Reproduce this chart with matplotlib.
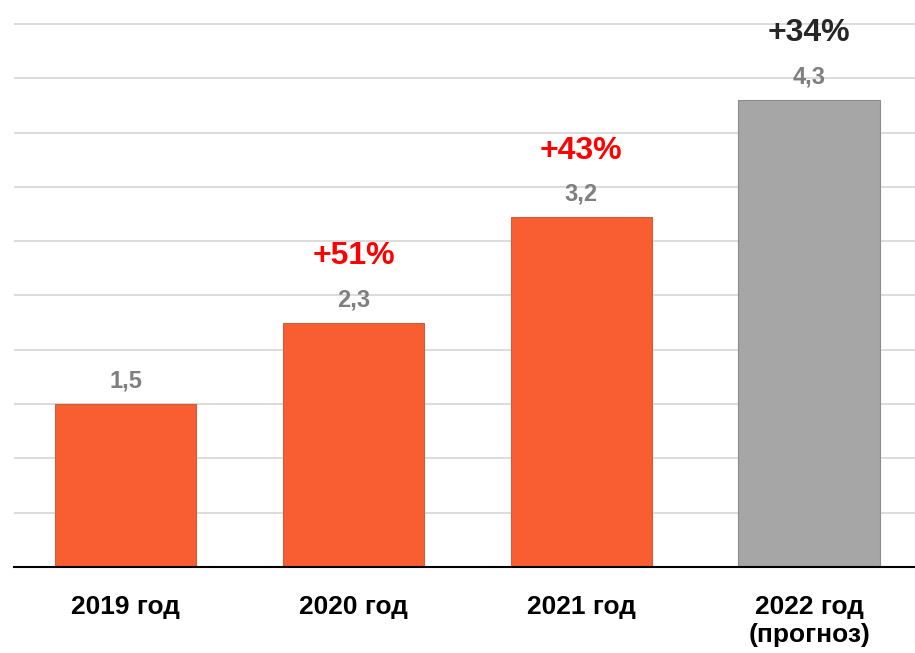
import matplotlib
matplotlib.use("Agg")
import matplotlib.pyplot as plt

categories = ["2019 год", "2020 год", "2021 год", "2022 год\n(прогноз)"]
values = [1.5, 2.25, 3.22, 4.3]
value_labels = ["1,5", "2,3", "3,2", "4,3"]
growth_labels = ["", "+51%", "+43%", "+34%"]
bar_colors = ["#F95D32", "#F95D32", "#F95D32", "#A6A6A6"]
edge_colors = ["#C8603F", "#C8603F", "#C8603F", "#8C8C8C"]
growth_colors = ["red", "red", "red", "#262626"]

plt.rcParams['font.family'] = ['Liberation Sans', 'DejaVu Sans']

fig = plt.figure(figsize=(9.15, 6.53), dpi=100)
ax = fig.add_axes([14/915, (653-567)/653, 1 - 14/915, 567/653])

x = list(range(len(categories)))
ax.bar(x, values, width=0.62, color=bar_colors, edgecolor=edge_colors, linewidth=0.8, zorder=3)

ax.set_ylim(0, 5.22)
ax.set_xlim(-0.49, 3.465)
ax.set_yticks([i * 0.5 for i in range(11)])
ax.yaxis.grid(True, color="#D9D9D9", linewidth=1.3, zorder=0)
ax.tick_params(axis='y', left=False, labelleft=False)
ax.tick_params(axis='x', bottom=False, pad=17)
ax.set_xticks(x)
ax.set_xticklabels(categories, fontsize=19, fontweight='bold', color='black',
                   linespacing=1.2, va='top')
for s in ['left', 'right', 'top']:
    ax.spines[s].set_visible(False)
ax.spines['bottom'].set_color('black')
ax.spines['bottom'].set_linewidth(1.5)
ax.spines['bottom'].set_zorder(4)

for xi, v, vl, gl, gc in zip(x, values, value_labels, growth_labels, growth_colors):
    ax.annotate(vl, (xi, v), xytext=(0, 16.5), textcoords='offset points',
                ha='center', va='center', fontsize=17, fontweight='bold', color='#7F7F7F')
    if gl:
        ax.annotate(gl, (xi, v), xytext=(0, 48), textcoords='offset points',
                    ha='center', va='center', fontsize=23, fontweight='bold', color=gc)

fig.savefig("out.png", dpi=100)
